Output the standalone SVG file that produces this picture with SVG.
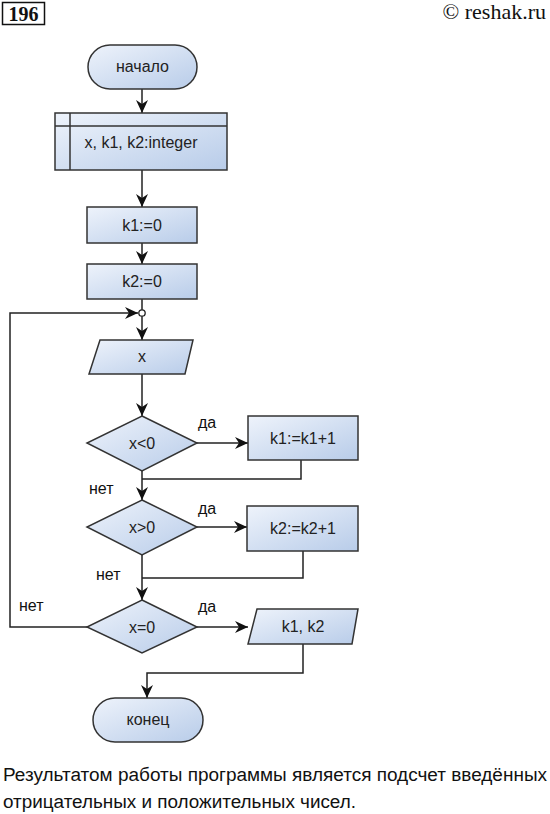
<svg xmlns="http://www.w3.org/2000/svg" width="550" height="814" viewBox="0 0 550 814">
<defs>
<linearGradient id="g" x1="0" y1="0" x2="1" y2="1">
<stop offset="0" stop-color="#eef3fb"/>
<stop offset="1" stop-color="#b8cce9"/>
</linearGradient>
<marker id="ar" markerUnits="userSpaceOnUse" markerWidth="14" markerHeight="12" refX="13" refY="6" orient="auto">
<path d="M0,0 L13,6 L0,12 L4,6 z" fill="#111"/>
</marker>
</defs>
<style>
.n{fill:url(#g);stroke:#333;stroke-width:1.5}
.t{font-family:"Liberation Sans",Arial,sans-serif;font-size:16px;fill:#222;text-anchor:middle}
.l{font-family:"Liberation Sans",Arial,sans-serif;font-size:16px;fill:#111}
.c{fill:none;stroke:#222;stroke-width:1.5}
.a{marker-end:url(#ar)}
</style>
<rect width="550" height="814" fill="#fff"/>
<g id="header">
<rect x="2.5" y="2.5" width="42" height="22" fill="none" stroke="#111" stroke-width="1.5"/>
<text x="23.5" y="20.5" font-family="Liberation Serif,serif" font-weight="bold" font-size="20" text-anchor="middle" fill="#111">196</text>
<text x="546" y="19" font-family="Liberation Serif,serif" font-size="22" text-anchor="end" fill="#111">© reshak.ru</text>
</g>
<g id="connectors">
<line class="c a" x1="142" y1="89" x2="142" y2="113"/>
<line class="c a" x1="142" y1="170" x2="142" y2="207"/>
<line class="c a" x1="142" y1="243" x2="142" y2="264"/>
<line class="c" x1="142" y1="299" x2="142" y2="310"/>
<line class="c a" x1="142" y1="316" x2="142" y2="340"/>
<line class="c a" x1="142" y1="374" x2="142" y2="416"/>
<line class="c a" x1="197" y1="443" x2="248" y2="443"/>
<polyline class="c" points="301,460 301,479 142,479"/>
<line class="c a" x1="142" y1="471" x2="142" y2="500"/>
<line class="c a" x1="197" y1="527" x2="247" y2="527"/>
<polyline class="c" points="303,551 303,578 142,578"/>
<line class="c a" x1="142" y1="555" x2="142" y2="600"/>
<line class="c a" x1="197" y1="627" x2="248" y2="627"/>
<polyline class="c a" points="87,627 10,627 10,313 138,313"/>
<circle cx="142" cy="313" r="3.2" fill="#fff" stroke="#222" stroke-width="1.3"/>
<polyline class="c a" points="303,644 303,673 147,673 147,698"/>
<text class="l" x="198" y="428">да</text>
<text class="l" x="89" y="494">нет</text>
<text class="l" x="198" y="514">да</text>
<text class="l" x="96" y="580">нет</text>
<text class="l" x="198" y="612">да</text>
<text class="l" x="19" y="611">нет</text>
</g>
<g id="start">
<rect class="n" x="88" y="45" width="109" height="44" rx="22"/>
<text class="t" x="142.5" y="72">начало</text>
</g>
<g id="decl">
<rect class="n" x="55" y="113" width="172" height="57"/>
<line x1="70" y1="113" x2="70" y2="170" stroke="#333" stroke-width="1.5"/>
<line x1="55" y1="126" x2="227" y2="126" stroke="#333" stroke-width="1.5"/>
<text class="t" x="141" y="148">x, k1, k2:integer</text>
</g>
<g id="k1init">
<rect class="n" x="87" y="207" width="110" height="36"/>
<text class="t" x="142" y="231">k1:=0</text>
</g>
<g id="k2init">
<rect class="n" x="87" y="264" width="110" height="35"/>
<text class="t" x="142" y="287">k2:=0</text>
</g>
<g id="inputx">
<polygon class="n" points="100,340 193,340 185,374 89,374"/>
<text class="t" x="142" y="362">x</text>
</g>
<g id="d1">
<polygon class="n" points="142,416 197,443 142,471 87,443"/>
<text class="t" x="142" y="449">x&lt;0</text>
</g>
<g id="inc1">
<rect class="n" x="248" y="416" width="110" height="44"/>
<text class="t" x="303" y="444">k1:=k1+1</text>
</g>
<g id="d2">
<polygon class="n" points="142,500 197,527 142,555 87,527"/>
<text class="t" x="142" y="533">x&gt;0</text>
</g>
<g id="inc2">
<rect class="n" x="247" y="506" width="111" height="45"/>
<text class="t" x="303" y="534">k2:=k2+1</text>
</g>
<g id="d3">
<polygon class="n" points="142,600 197,627 142,653 87,627"/>
<text class="t" x="142" y="633">x=0</text>
</g>
<g id="out">
<polygon class="n" points="257,609 358,609 352,644 248,644"/>
<text class="t" x="303" y="632">k1, k2</text>
</g>
<g id="end">
<rect class="n" x="93" y="698" width="110" height="44" rx="22"/>
<text class="t" x="148" y="725">конец</text>
</g>
<g id="caption" font-family="'Liberation Sans',Arial,sans-serif" font-size="18" fill="#111">
<text x="3" y="781" textLength="544" lengthAdjust="spacingAndGlyphs">Результатом работы программы является подсчет введённых</text>
<text x="3" y="808" textLength="353" lengthAdjust="spacingAndGlyphs">отрицательных и положительных чисел.</text>
</g>
</svg>
